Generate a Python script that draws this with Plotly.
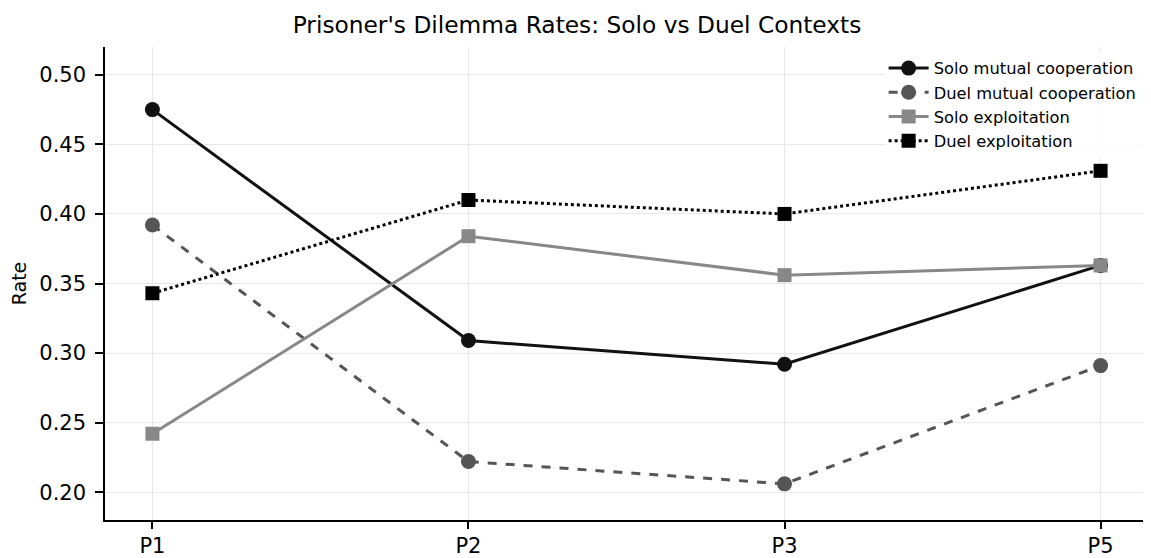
import plotly.graph_objects as go

categories = ["P1", "P2", "P3", "P5"]
solo_mutual = [0.475, 0.309, 0.292, 0.363]
duel_mutual = [0.392, 0.222, 0.206, 0.291]
solo_exploit = [0.242, 0.384, 0.356, 0.363]
duel_exploit = [0.343, 0.410, 0.400, 0.431]

series = [
    ("Solo mutual cooperation", solo_mutual, "#111111", "solid", "circle"),
    ("Duel mutual cooperation", duel_mutual, "#555555", "dash", "circle"),
    ("Solo exploitation", solo_exploit, "#888888", "solid", "square"),
    ("Duel exploitation", duel_exploit, "#000000", "dot", "square"),
]

# page is offset by the 8px body margin of the html page
W, H = 1143, 550
L, R, T, B = 97, 2.5, 39, 38

x_idx = list(range(len(categories)))
fig = go.Figure()
for name, vals, col, dash, sym in series:
    fig.add_trace(go.Scatter(
        x=x_idx, y=vals, name=name, mode="lines+markers",
        line=dict(color=col, width=3, dash=dash),
        marker=dict(color=col, size=15 if sym == "circle" else 14, symbol=sym),
    ))

fig.update_layout(
    width=W, height=H,
    margin=dict(l=L, r=R, t=T, b=B, autoexpand=False),
    paper_bgcolor="white", plot_bgcolor="white",
    font=dict(family="DejaVu Sans", color="black"),
    title=dict(text="Prisoner's Dilemma Rates: Solo vs Duel Contexts",
               x=569 / W, xanchor="center", xref="container",
               y=1 - 17 / H, yanchor="middle", yref="container",
               font=dict(size=23.3)),
    legend=dict(x=(876 - L) / (W - L - R), y=1 - 4 / (H - T - B),
                xanchor="left", yanchor="top",
                font=dict(size=16.3), bgcolor="rgba(255,255,255,0.8)",
                tracegroupgap=0, itemwidth=40),
    showlegend=True,
)
fig.update_xaxes(
    range=[-0.15, 3.15], tickmode="array", tickvals=x_idx, ticktext=categories,
    showgrid=True, gridcolor="#e8e8e8", gridwidth=1,
    showline=True, linecolor="black", linewidth=1.5,
    ticks="outside", ticklen=7, tickcolor="black", tickwidth=1.5,
    tickfont=dict(size=21), zeroline=False, automargin=False,
    ticklabelstandoff=-1,
)
fig.update_yaxes(
    range=[0.18, 0.52], tickvals=[0.20, 0.25, 0.30, 0.35, 0.40, 0.45, 0.50],
    tickformat=".2f",
    showgrid=True, gridcolor="#e8e8e8", gridwidth=1,
    showline=True, linecolor="black", linewidth=1.5,
    ticks="outside", ticklen=8, tickcolor="black", tickwidth=1.5,
    tickfont=dict(size=21), zeroline=False, automargin=False,
    ticklabelstandoff=5,
    title=dict(text="Rate", font=dict(size=19), standoff=12),
)

fig.write_html("out.html")
